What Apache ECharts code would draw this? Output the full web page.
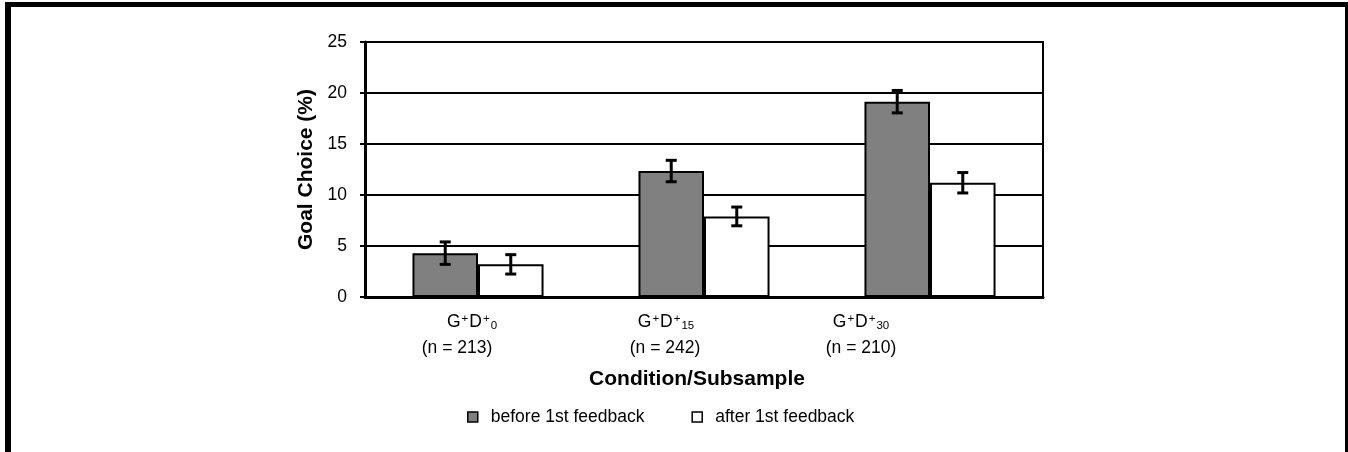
<!DOCTYPE html>
<html>
<head>
<meta charset="utf-8">
<script src="https://cdn.jsdelivr.net/npm/echarts@6/dist/echarts.min.js"></script>
<style>
html,body{margin:0;padding:0;background:#fff;}
#wrap{position:relative;width:1348px;height:452px;}
#chart{position:absolute;left:0;top:0;width:1348px;height:452px;}
#frame{position:absolute;left:5px;top:2px;width:1343px;height:450px;box-sizing:border-box;
  border-left:6px solid #000;border-top:5px solid #000;border-right:3px solid #000;pointer-events:none;}
</style>
</head>
<body>
<div id="wrap"><div id="chart"></div><div id="frame"></div></div>
<script>
// ---- data ----
const conditionSubscripts = ['0', '15', '30'];
const sampleSizes = [213, 242, 210];
const categories = conditionSubscripts.map((s, i) => 'G+D+' + s + ' (n = ' + sampleSizes[i] + ')');
const seriesNames = ['before 1st feedback', 'after 1st feedback'];
const beforeMeans = [4.3, 12.35, 19.15];
const beforeErr = [1.1, 1.05, 1.1];
const afterMeans = [3.2, 7.9, 11.2];
const afterErr = [0.95, 0.92, 1.0];
const yTicks = [0, 5, 10, 15, 20, 25];

// ---- style ----
const FONT = "'Liberation Sans', Arial, sans-serif";
const labelShift1 = [12, 76, 138];  // spacer widths (shift = w/2) for line 1
const labelShift2 = [42, 78, 138];  // line 2

const chart = echarts.init(document.getElementById('chart'), null, {renderer: 'canvas'});

function errData(means, errs) {
  return means.map((m, i) => [i, m - errs[i], m + errs[i]]);
}
function errRenderer(side) {
  return function (params, api) {
    const x = api.value(0), lo = api.value(1), hi = api.value(2);
    const band = api.size([1, 0])[0];
    const off = side * band * 0.145;
    const pLo = api.coord([x, lo]);
    const pHi = api.coord([x, hi]);
    const cx = pLo[0] + off;
    const cap = 5.5;
    const st = {stroke: '#000', lineWidth: 3};
    return {type: 'group', children: [
      {type: 'line', shape: {x1: cx, y1: pLo[1], x2: cx, y2: pHi[1]}, style: st},
      {type: 'line', shape: {x1: cx - cap, y1: pLo[1], x2: cx + cap, y2: pLo[1]}, style: st},
      {type: 'line', shape: {x1: cx - cap, y1: pHi[1], x2: cx + cap, y2: pHi[1]}, style: st}
    ]};
  };
}

const option = {
  animation: false,
  backgroundColor: '#fff',
  textStyle: {fontFamily: FONT, color: '#000'},
  grid: {left: 365, right: 305, top: 42, bottom: 155, show: true, borderColor: '#000', borderWidth: 2, backgroundColor: 'transparent'},
  legend: {
    data: seriesNames,
    left: 462, top: 403,
    icon: 'rect', itemWidth: 10, itemHeight: 10, itemGap: 47,
    textStyle: {fontSize: 17.5, color: '#000', fontFamily: FONT, padding: [0, 0, 0, 8]},
    itemStyle: {borderColor: '#000', borderWidth: 1.5}
  },
  xAxis: {
    type: 'category',
    data: categories,
    name: 'Condition/Subsample',
    nameLocation: 'middle',
    nameGap: 72,
    nameTextStyle: {fontSize: 21, fontWeight: 'bold', color: '#000', fontFamily: FONT, padding: [0, 14, 0, 0]},
    axisLine: {lineStyle: {color: '#000', width: 3}},
    axisTick: {show: false},
    axisLabel: {
      interval: 0, margin: 12, color: '#000', fontFamily: FONT,
      formatter: function (v, i) {
        return '{m|G}{sp|+}{m|D}{sp|+}{sb|' + conditionSubscripts[i] + '}{p' + i + 'a|}\n' +
               '{m|(n = ' + sampleSizes[i] + ')}{p' + i + 'b|}';
      },
      rich: (function () {
        const r = {
          m: {fontSize: 17.5, lineHeight: 26, fontFamily: FONT, color: '#000', verticalAlign: 'middle'},
          sp: {fontSize: 11.5, lineHeight: 26, fontFamily: FONT, color: '#000', verticalAlign: 'top', padding: [4, 1, 0, 1]},
          sb: {fontSize: 11.5, lineHeight: 26, fontFamily: FONT, color: '#000', verticalAlign: 'bottom', padding: [0, 0, 3, 0]}
        };
        for (let i = 0; i < 3; i++) {
          r['p' + i + 'a'] = {width: labelShift1[i], lineHeight: 26};
          r['p' + i + 'b'] = {width: labelShift2[i], lineHeight: 26};
        }
        return r;
      })()
    },
    splitLine: {show: false}
  },
  yAxis: {
    type: 'value',
    min: yTicks[0], max: yTicks[yTicks.length - 1], interval: 5,
    name: 'Goal Choice (%)',
    nameLocation: 'middle',
    nameGap: 42,
    nameTextStyle: {fontSize: 21, fontWeight: 'bold', color: '#000', fontFamily: FONT},
    axisLine: {show: true, lineStyle: {color: '#000', width: 3}},
    axisTick: {show: true, length: 5, lineStyle: {color: '#000', width: 2}},
    axisLabel: {fontSize: 17.5, color: '#000', margin: 18, fontFamily: FONT},
    splitLine: {show: true, lineStyle: {color: '#000', width: 2}}
  },
  series: [
    {
      name: seriesNames[0], type: 'bar', data: beforeMeans,
      barGap: '0%', barCategoryGap: '42%',
      itemStyle: {color: '#808080', borderColor: '#000', borderWidth: 2}, z: 3
    },
    {
      name: seriesNames[1], type: 'bar', data: afterMeans,
      itemStyle: {color: '#ffffff', borderColor: '#000', borderWidth: 2}, z: 3
    },
    {
      type: 'custom', data: errData(beforeMeans, beforeErr), renderItem: errRenderer(-1),
      encode: {x: 0, y: [1, 2]}, z: 5, silent: true
    },
    {
      type: 'custom', data: errData(afterMeans, afterErr), renderItem: errRenderer(1),
      encode: {x: 0, y: [1, 2]}, z: 5, silent: true
    }
  ]
};
chart.setOption(option);
</script>
</body>
</html>
